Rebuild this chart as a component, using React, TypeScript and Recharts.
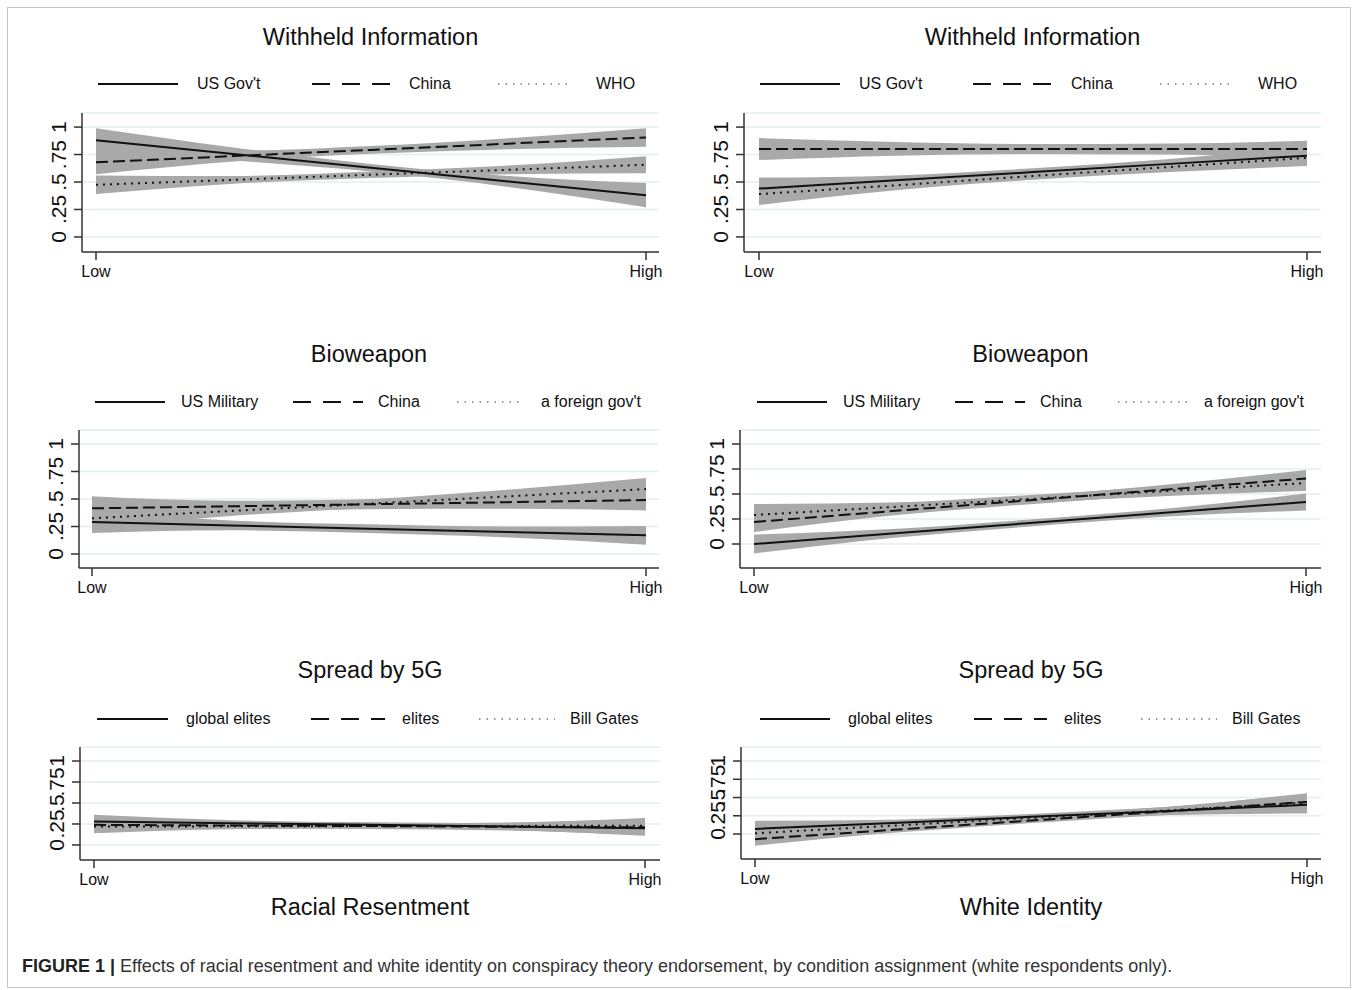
import { Area, CartesianGrid, ComposedChart, Line, XAxis, YAxis } from 'recharts'

const FONT = '"Liberation Sans", Arial, Helvetica, sans-serif'

// x positions where the margins were read (Low .. High)
const xLevels = [0, 0.25, 0.5, 0.75, 1]
const yTicks = [0, 0.25, 0.5, 0.75, 1]
const yTickLabels = ['0', '.25', '.5', '.75', '1']

// Withheld Information / Racial Resentment
const whRrGov = [0.88, 0.755, 0.63, 0.505, 0.38]
const whRrGovBand = [[0.77, 0.99], [0.695, 0.815], [0.595, 0.665], [0.455, 0.555], [0.27, 0.49]]
const whRrChina = [0.68, 0.736, 0.792, 0.849, 0.905]
const whRrChinaBand = [[0.57, 0.79], [0.686, 0.786], [0.757, 0.827], [0.799, 0.899], [0.82, 0.99]]
const whRrWho = [0.475, 0.52, 0.566, 0.611, 0.657]
const whRrWhoBand = [[0.39, 0.56], [0.485, 0.555], [0.536, 0.596], [0.571, 0.651], [0.58, 0.735]]

// Withheld Information / White Identity
const whWiGov = [0.44, 0.515, 0.59, 0.665, 0.74]
const whWiGovBand = [[0.34, 0.54], [0.47, 0.56], [0.555, 0.625], [0.62, 0.71], [0.66, 0.82]]
const whWiChina = [0.8, 0.8, 0.8, 0.8, 0.8]
const whWiChinaBand = [[0.7, 0.9], [0.74, 0.865], [0.755, 0.845], [0.75, 0.85], [0.725, 0.875]]
const whWiWho = [0.39, 0.47, 0.555, 0.637, 0.72]
const whWiWhoBand = [[0.29, 0.49], [0.425, 0.515], [0.52, 0.59], [0.59, 0.685], [0.645, 0.795]]

// Bioweapon / Racial Resentment
const bwRrMil = [0.29, 0.26, 0.23, 0.2, 0.17]
const bwRrMilBand = [[0.19, 0.39], [0.215, 0.305], [0.19, 0.27], [0.15, 0.25], [0.085, 0.255]]
const bwRrChina = [0.415, 0.434, 0.452, 0.471, 0.49]
const bwRrChinaBand = [[0.305, 0.525], [0.384, 0.484], [0.407, 0.497], [0.411, 0.531], [0.395, 0.585]]
const bwRrForeign = [0.325, 0.391, 0.457, 0.524, 0.59]
const bwRrForeignBand = [[0.23, 0.42], [0.346, 0.436], [0.417, 0.497], [0.464, 0.584], [0.49, 0.69]]

// Bioweapon / White Identity
const bwWiMil = [0.0, 0.105, 0.21, 0.315, 0.42]
const bwWiMilBand = [[-0.095, 0.095], [0.06, 0.15], [0.175, 0.245], [0.275, 0.355], [0.335, 0.505]]
const bwWiChina = [0.22, 0.329, 0.438, 0.546, 0.655]
const bwWiChinaBand = [[0.12, 0.32], [0.284, 0.374], [0.398, 0.478], [0.496, 0.596], [0.57, 0.74]]
const bwWiForeign = [0.29, 0.37, 0.45, 0.53, 0.61]
const bwWiForeignBand = [[0.18, 0.4], [0.325, 0.415], [0.41, 0.49], [0.48, 0.58], [0.53, 0.69]]

// Spread by 5G / Racial Resentment
const g5RrGlobal = [0.28, 0.26, 0.24, 0.22, 0.2]
const g5RrGlobalBand = [[0.2, 0.36], [0.225, 0.295], [0.21, 0.27], [0.18, 0.26], [0.11, 0.29]]
const g5RrElites = [0.24, 0.232, 0.225, 0.217, 0.21]
const g5RrElitesBand = [[0.15, 0.33], [0.192, 0.272], [0.19, 0.26], [0.172, 0.262], [0.12, 0.3]]
const g5RrGates = [0.22, 0.222, 0.225, 0.227, 0.23]
const g5RrGatesBand = [[0.14, 0.3], [0.187, 0.257], [0.195, 0.255], [0.187, 0.267], [0.14, 0.32]]

// Spread by 5G / White Identity
const g5WiGlobal = [0.07, 0.152, 0.235, 0.317, 0.4]
const g5WiGlobalBand = [[-0.04, 0.18], [0.107, 0.197], [0.195, 0.275], [0.262, 0.372], [0.28, 0.52]]
const g5WiElites = [-0.07, 0.057, 0.185, 0.312, 0.44]
const g5WiElitesBand = [[-0.16, 0.02], [0.017, 0.097], [0.15, 0.22], [0.262, 0.362], [0.32, 0.56]]
const g5WiGates = [0.01, 0.115, 0.22, 0.325, 0.43]
const g5WiGatesBand = [[-0.1, 0.12], [0.07, 0.16], [0.18, 0.26], [0.275, 0.375], [0.31, 0.55]]

type LineKind = 'solid' | 'dash' | 'dot'

type Series = { name: string; values: number[]; band: number[][]; kind: LineKind }

type Panel = {
  title: string
  titleY: number
  legendY: number
  legend: [number, number, number][] // sample start, sample end, text start
  plot: { left: number; top: number; right: number; bottom: number }
  padX: [number, number]
  yDomain: [number, number]
  xTitle?: string
  series: Series[]
}

const kinds: LineKind[] = ['solid', 'dash', 'dot']
const mk = (names: string[], vals: number[][], bands: number[][][]): Series[] =>
  names.map((name, i) => ({ name, values: vals[i], band: bands[i], kind: kinds[i] }))

const panels: Panel[] = [
  {
    title: 'Withheld Information',
    titleY: 37,
    legendY: 84,
    legend: [[98, 178, 197], [312, 390, 409], [498, 572, 596]],
    plot: { left: 82, top: 113, right: 659, bottom: 252 },
    padX: [14, 13],
    yDomain: [-0.137, 1.128],
    series: mk(["US Gov't", 'China', 'WHO'], [whRrGov, whRrChina, whRrWho], [whRrGovBand, whRrChinaBand, whRrWhoBand])
  },
  {
    title: 'Withheld Information',
    titleY: 37,
    legendY: 84,
    legend: [[760, 840, 859], [973, 1052, 1071], [1160, 1235, 1258]],
    plot: { left: 744, top: 113, right: 1321, bottom: 252 },
    padX: [15, 14],
    yDomain: [-0.137, 1.128],
    series: mk(["US Gov't", 'China', 'WHO'], [whWiGov, whWiChina, whWiWho], [whWiGovBand, whWiChinaBand, whWiWhoBand])
  },
  {
    title: 'Bioweapon',
    titleY: 354,
    legendY: 402,
    legend: [[95, 165, 181], [293, 363, 378], [457, 524, 541]],
    plot: { left: 79, top: 430, right: 659, bottom: 568 },
    padX: [13, 13],
    yDomain: [-0.127, 1.127],
    series: mk(['US Military', 'China', "a foreign gov't"], [bwRrMil, bwRrChina, bwRrForeign], [bwRrMilBand, bwRrChinaBand, bwRrForeignBand])
  },
  {
    title: 'Bioweapon',
    titleY: 354,
    legendY: 402,
    legend: [[757, 827, 843], [955, 1025, 1040], [1118, 1187, 1204]],
    plot: { left: 740, top: 430, right: 1321, bottom: 568 },
    padX: [14, 15],
    yDomain: [-0.24, 1.14],
    series: mk(['US Military', 'China', "a foreign gov't"], [bwWiMil, bwWiChina, bwWiForeign], [bwWiMilBand, bwWiChinaBand, bwWiForeignBand])
  },
  {
    title: 'Spread by 5G',
    titleY: 670,
    legendY: 719,
    legend: [[97, 168, 186], [311, 385, 402], [479, 555, 570]],
    plot: { left: 80, top: 747, right: 660, bottom: 860 },
    padX: [14, 15],
    yDomain: [-0.179, 1.167],
    xTitle: 'Racial Resentment',
    series: mk(['global elites', 'elites', 'Bill Gates'], [g5RrGlobal, g5RrElites, g5RrGates], [g5RrGlobalBand, g5RrElitesBand, g5RrGatesBand])
  },
  {
    title: 'Spread by 5G',
    titleY: 670,
    legendY: 719,
    legend: [[760, 830, 848], [974, 1047, 1064], [1141, 1217, 1232]],
    plot: { left: 741, top: 747, right: 1321, bottom: 859 },
    padX: [14, 14],
    yDomain: [-0.342, 1.192],
    xTitle: 'White Identity',
    series: mk(['global elites', 'elites', 'Bill Gates'], [g5WiGlobal, g5WiElites, g5WiGates], [g5WiGlobalBand, g5WiElitesBand, g5WiGatesBand])
  }
]

const dashFor = (kind: LineKind) => (kind === 'dash' ? '12 5' : kind === 'dot' ? '2 5' : undefined)

function YTick({ x, y, payload }: any) {
  const idx = yTicks.indexOf(payload.value)
  return (
    <text
      x={x}
      y={y}
      transform={`rotate(-90 ${x} ${y})`}
      textAnchor="middle"
      fontSize={21}
      fontFamily={FONT}
      fill="#111"
    >
      {yTickLabels[idx]}
    </text>
  )
}

const AXIS_W = 44
const MT = 6
const MR = 6
const XAXIS_H = 44

function PanelChart({ p }: { p: Panel }) {
  const rows = xLevels.map((x, i) => {
    const row: Record<string, unknown> = { x }
    p.series.forEach((s, k) => {
      row[`v${k}`] = s.values[i]
      row[`b${k}`] = s.band[i]
    })
    return row
  })
  const w = p.plot.right - p.plot.left + AXIS_W + MR
  const h = p.plot.bottom - p.plot.top + MT + XAXIS_H
  const cx = (p.plot.left + p.plot.right) / 2

  return (
    <>
      <div style={{ position: 'absolute', left: cx - 200, width: 400, top: p.titleY - 15, textAlign: 'center', fontSize: 23.5, lineHeight: '30px', color: '#111' }}>
        {p.title}
      </div>
      {p.series.map((s, k) => {
        const [a, b, t] = p.legend[k]
        return (
          <div key={s.name}>
            <svg style={{ position: 'absolute', left: a, top: p.legendY - 3 }} width={b - a} height={6}>
              {s.kind === 'solid' && <line x1={0} x2={b - a} y1={3} y2={3} stroke="#111" strokeWidth={2} />}
              {s.kind === 'dash' && <line x1={0} x2={b - a} y1={3} y2={3} stroke="#111" strokeWidth={2} strokeDasharray="18 12" />}
              {s.kind === 'dot' && <line x1={0} x2={b - a} y1={3} y2={3} stroke="#777" strokeWidth={1.5} strokeDasharray="1.5 6" />}
            </svg>
            <div style={{ position: 'absolute', left: t, top: p.legendY - 10, fontSize: 16, lineHeight: '20px', color: '#111', whiteSpace: 'nowrap' }}>
              {s.name}
            </div>
          </div>
        )
      })}
      <div style={{ position: 'absolute', left: p.plot.left - AXIS_W, top: p.plot.top - MT }}>
        <ComposedChart width={w} height={h} data={rows} margin={{ top: MT, right: MR, left: 0, bottom: 0 }}>
          <CartesianGrid vertical={false} stroke="#e4eef1" strokeWidth={1.5} />
          <XAxis
            type="number"
            dataKey="x"
            domain={[0, 1]}
            ticks={[0, 1]}
            tickFormatter={(v) => (v === 0 ? 'Low' : 'High')}
            padding={{ left: p.padX[0], right: p.padX[1] }}
            height={XAXIS_H}
            tickSize={8}
            tickMargin={6}
            axisLine={{ stroke: '#333', strokeWidth: 1.5 }}
            tickLine={{ stroke: '#333', strokeWidth: 1.5 }}
            tick={{ fill: '#111', fontSize: 16, fontFamily: FONT }}
          />
          <YAxis
            type="number"
            domain={p.yDomain}
            allowDataOverflow
            ticks={yTicks}
            interval={0}
            width={AXIS_W}
            tickSize={8}
            tickMargin={8}
            axisLine={{ stroke: '#333', strokeWidth: 1.5 }}
            tickLine={{ stroke: '#333', strokeWidth: 1.5 }}
            tick={<YTick />}
          />
          {p.series.map((s, k) => (
            <Area
              key={`b${k}`}
              type="monotone"
              dataKey={`b${k}`}
              stroke="none"
              fill="#a9a9a9"
              fillOpacity={1}
              dot={false}
              activeDot={false}
              isAnimationActive={false}
            />
          ))}
          {p.series.map((s, k) => (
            <Line
              key={`v${k}`}
              type="linear"
              dataKey={`v${k}`}
              stroke="#111"
              strokeWidth={2}
              strokeDasharray={dashFor(s.kind)}
              dot={false}
              activeDot={false}
              isAnimationActive={false}
            />
          ))}
        </ComposedChart>
      </div>
      {p.xTitle && (
        <div style={{ position: 'absolute', left: cx - 200, width: 400, top: 892, textAlign: 'center', fontSize: 23.5, lineHeight: '30px', color: '#111' }}>
          {p.xTitle}
        </div>
      )}
    </>
  )
}

export default function App() {
  return (
    <div style={{ position: 'absolute', left: 0, top: 0, width: 1358, height: 990, background: '#fff', fontFamily: FONT, overflow: 'hidden' }}>
      <div style={{ position: 'absolute', left: 7, top: 7, width: 1342, height: 979, border: '1px solid #c4c4c4' }} />
      {panels.map((p, i) => (
        <PanelChart key={i} p={p} />
      ))}
      <div style={{ position: 'absolute', left: 22, top: 955, fontSize: 18, lineHeight: '22px', color: '#333', whiteSpace: 'nowrap' }}>
        <b style={{ color: '#222' }}>FIGURE 1 |</b> Effects of racial resentment and white identity on conspiracy theory endorsement, by condition assignment (white respondents only).
      </div>
    </div>
  )
}
